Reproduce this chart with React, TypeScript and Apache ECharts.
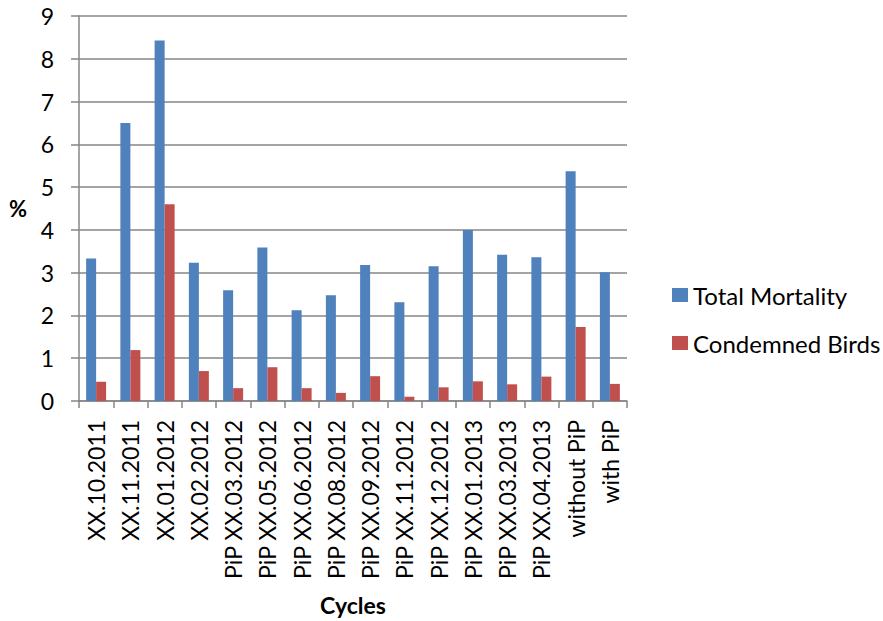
import React, { useEffect, useRef } from "react";
import * as echarts from "echarts";

const categories = [
  "XX.10.2011",
  "XX.11.2011",
  "XX.01.2012",
  "XX.02.2012",
  "PiP XX.03.2012",
  "PiP XX.05.2012",
  "PiP XX.06.2012",
  "PiP XX.08.2012",
  "PiP XX.09.2012",
  "PiP XX.11.2012",
  "PiP XX.12.2012",
  "PiP XX.01.2013",
  "PiP XX.03.2013",
  "PiP XX.04.2013",
  "without PiP",
  "with PiP",
];
const totalMortality = [3.33, 6.5, 8.43, 3.23, 2.59, 3.59, 2.12, 2.47, 3.18, 2.31, 3.15, 4.0, 3.42, 3.36, 5.37, 3.01];
const condemnedBirds = [0.45, 1.19, 4.6, 0.7, 0.3, 0.79, 0.3, 0.19, 0.58, 0.1, 0.32, 0.46, 0.39, 0.57, 1.73, 0.4];

const FONT = "Lato, 'Open Sans', sans-serif";

export default function App() {
  const ref = useRef<HTMLDivElement>(null);
  useEffect(() => {
    document.body.style.margin = "0";
    if (!ref.current) return;
    const chart = echarts.init(ref.current, undefined, { renderer: "svg" });
    chart.setOption({
      animation: false,
      backgroundColor: "#ffffff",
      textStyle: { fontFamily: FONT },
      grid: {
        left: 79,
        right: 256,
        top: 16,
        bottom: 220,
        containLabel: false,
        outerBoundsMode: "none",
      },
      legend: {
        orient: "vertical",
        left: 667,
        top: 278,
        itemWidth: 16,
        itemHeight: 14,
        itemGap: 24,
        icon: "rect",
        textStyle: { fontFamily: FONT, fontSize: 24, color: "#000", padding: [0, 0, 0, 0] },
        data: ["Total Mortality", "Condemned Birds"],
      },
      xAxis: {
        type: "category",
        data: categories,
        name: "Cycles",
        nameLocation: "middle",
        nameGap: 192,
        nameTextStyle: { fontFamily: FONT, fontSize: 23, fontWeight: "bold", color: "#000" },
        axisLine: { lineStyle: { color: "#868686", width: 1.5 } },
        axisTick: { show: true, length: 7, lineStyle: { color: "#868686", width: 1.5 } },
        axisLabel: {
          rotate: 90,
          interval: 0,
          margin: 19,
          fontFamily: FONT,
          fontSize: 23,
          color: "#000",
        },
      },
      yAxis: {
        type: "value",
        min: 0,
        max: 9,
        interval: 1,
        name: "%",
        nameLocation: "middle",
        nameGap: 52,
        nameRotate: 0,
        nameTextStyle: { fontFamily: FONT, fontSize: 22, fontWeight: "bold", color: "#000" },
        axisLine: { show: true, lineStyle: { color: "#868686", width: 1.5 } },
        axisTick: { show: true, length: 8, lineStyle: { color: "#868686", width: 1.5 } },
        axisLabel: { fontFamily: FONT, fontSize: 23, color: "#000", margin: 25 },
        splitLine: { lineStyle: { color: "#868686", width: 1.5 } },
      },
      series: [
        {
          name: "Total Mortality",
          type: "bar",
          data: totalMortality,
          barWidth: 10,
          barGap: "0%",
          itemStyle: { color: "#4f81bd" },
        },
        {
          name: "Condemned Birds",
          type: "bar",
          data: condemnedBirds,
          barWidth: 10,
          barGap: "0%",
          itemStyle: { color: "#c0504d" },
        },
      ],
    });
    return () => chart.dispose();
  }, []);
  return <div ref={ref} style={{ width: 883, height: 621 }} />;
}
